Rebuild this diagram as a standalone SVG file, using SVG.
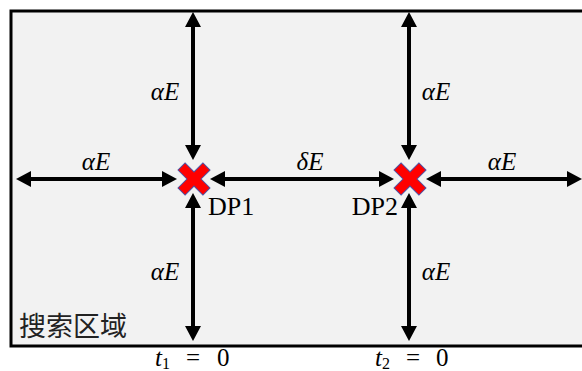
<svg xmlns="http://www.w3.org/2000/svg" width="582" height="371" viewBox="0 0 582 371">
<style>
.m{font-family:"Liberation Serif",serif;font-style:italic;font-size:25px;fill:#000}
.dp{font-family:"Liberation Serif",serif;font-size:26px;fill:#000}
.ln{stroke:#000;stroke-width:4;fill:none;marker-start:url(#ah);marker-end:url(#ah)}
.x{fill:#ff0000;stroke:#5050a0;stroke-width:1}
.n{font-style:normal}
</style>
<defs>
<marker id="ah" markerUnits="userSpaceOnUse" markerWidth="20" markerHeight="20" viewBox="0 -10 20 20" refX="1" refY="0" orient="auto-start-reverse">
<path d="M0,-8 L15,0 L0,8 z" fill="#000"/>
</marker>
<path id="cross" d="M5,-17.6 L5,-5 L17.6,-5 L17.6,5 L5,5 L5,17.6 L-5,17.6 L-5,5 L-17.6,5 L-17.6,-5 L-5,-5 L-5,-17.6 Z" transform="rotate(45)"/>
</defs>
<g id="area">
<rect x="11" y="11" width="580" height="335" fill="#f2f2f2" stroke="#000" stroke-width="3"/>
<text x="19" y="336" font-family="'Noto Sans CJK SC',sans-serif" font-size="27" fill="#222">搜索区域</text>
</g>
<g id="connectors">
<line class="ln" x1="193" y1="26" x2="193" y2="146"/>
<line class="ln" x1="193" y1="207" x2="193" y2="327"/>
<line class="ln" x1="409" y1="26" x2="409" y2="146"/>
<line class="ln" x1="409" y1="207" x2="409" y2="327"/>
<line class="ln" x1="30" y1="179" x2="163" y2="179"/>
<line class="ln" x1="224" y1="179" x2="380" y2="179"/>
<line class="ln" x1="440" y1="179" x2="568" y2="179"/>
</g>
<g id="labels">
<text class="m" x="165" y="100" text-anchor="middle">αE</text>
<text class="m" x="436" y="100" text-anchor="middle">αE</text>
<text class="m" x="96" y="170" text-anchor="middle">αE</text>
<text class="m" x="310" y="170" text-anchor="middle">δE</text>
<text class="m" x="502" y="170" text-anchor="middle">αE</text>
<text class="m" x="165" y="280" text-anchor="middle">αE</text>
<text class="m" x="436" y="280" text-anchor="middle">αE</text>
</g>
<g id="DP1">
<use href="#cross" class="x" transform="translate(194,179)"/>
<text class="dp" x="208" y="215">DP1</text>
</g>
<g id="DP2">
<use href="#cross" class="x" transform="translate(410,179)"/>
<text class="dp" x="398" y="215" text-anchor="end">DP2</text>
</g>
<g id="t1">
<text class="m" x="155" y="366">t<tspan font-size="16" dy="3" class="n">1</tspan><tspan class="n" x="186" dy="-3">=</tspan><tspan class="n" x="217">0</tspan></text>
</g>
<g id="t2">
<text class="m" x="375" y="366">t<tspan font-size="16" dy="3" class="n">2</tspan><tspan class="n" x="406" dy="-3">=</tspan><tspan class="n" x="436">0</tspan></text>
</g>
</svg>
